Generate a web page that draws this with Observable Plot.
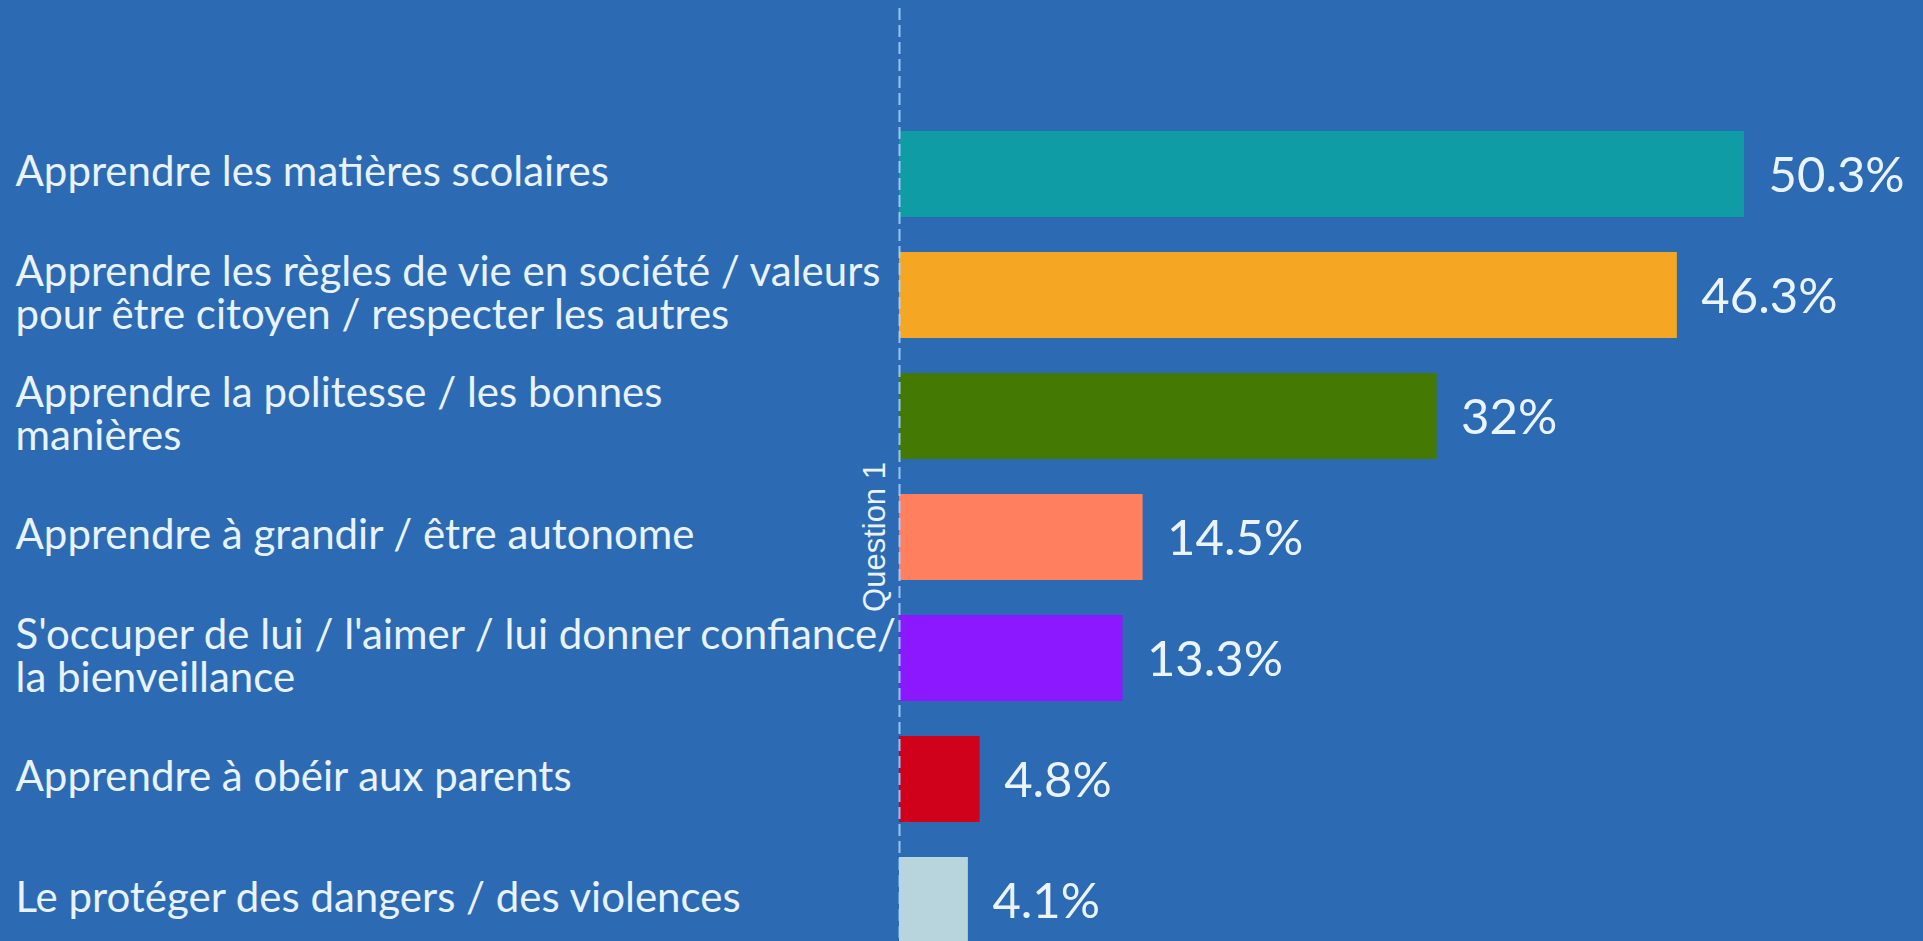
<!DOCTYPE html>
<html><head><meta charset="utf-8">
<script src="https://cdn.jsdelivr.net/npm/d3@7"></script>
<script src="https://cdn.jsdelivr.net/npm/@observablehq/plot@0.6"></script>
<style>html,body{margin:0;padding:0;overflow:hidden;background:#2c6bb4;}</style>
</head><body><div id="chart"></div>
<script>
const categories = [
  "Apprendre les matières scolaires",
  "Apprendre les règles de vie en société / valeurs\npour être citoyen / respecter les autres",
  "Apprendre la politesse / les bonnes\nmanières",
  "Apprendre à grandir / être autonome",
  "S'occuper de lui / l'aimer / lui donner confiance/\nla bienveillance",
  "Apprendre à obéir aux parents",
  "Le protéger des dangers / des violences"
];
const values = [50.3, 46.3, 32, 14.5, 13.3, 4.8, 4.1];
const valueLabels = ["50.3%", "46.3%", "32%", "14.5%", "13.3%", "4.8%", "4.1%"];
const colors = ["#0f9ca5", "#f5a623", "#447a03", "#ff7f5f", "#8c18ff", "#d0021b", "#b8d4dc"];
const axisLabel = "Question 1";

const data = categories.map((c, i) => ({category: c, value: values[i], label: valueLabels[i]}));

const chart = Plot.plot({
  width: 1923,
  height: 961,
  marginTop: 8,
  marginBottom: 0,
  marginLeft: 899,
  marginRight: 16,
  style: {background: "#2c6bb4", fontFamily: "Lato"},
  x: {domain: [0, 60], axis: null},
  y: {domain: categories, axis: null, paddingInner: 0.29, paddingOuter: 0.567, align: 0.871},
  color: {domain: categories, range: colors},
  marks: [
    Plot.barX(data, {x: "value", y: "category", fill: "category"}),
    Plot.ruleX([0], {stroke: "#a9d3ff", strokeOpacity: 0.85, strokeWidth: 2, strokeDasharray: "12,5"}),
    Plot.text(data, {y: "category", text: "category", frameAnchor: "left", textAnchor: "start",
      dx: -884, dy: -2, fontSize: 42, lineHeight: 1.03, fill: "#e8f3ff"}),
    Plot.text(data, {x: "value", y: "category", text: "label", textAnchor: "start",
      dx: 24, dy: 2, fontSize: 49, fill: "#eaf4ff"}),
    Plot.text([axisLabel], {text: d => d, frameAnchor: "left", textAnchor: "middle", rotate: -90, dx: -24, dy: 52,
      fontSize: 31, fontFamily: "Liberation Sans", fill: "#e8f3ff"})
  ]
});
document.getElementById("chart").appendChild(chart);
</script>
</body></html>
